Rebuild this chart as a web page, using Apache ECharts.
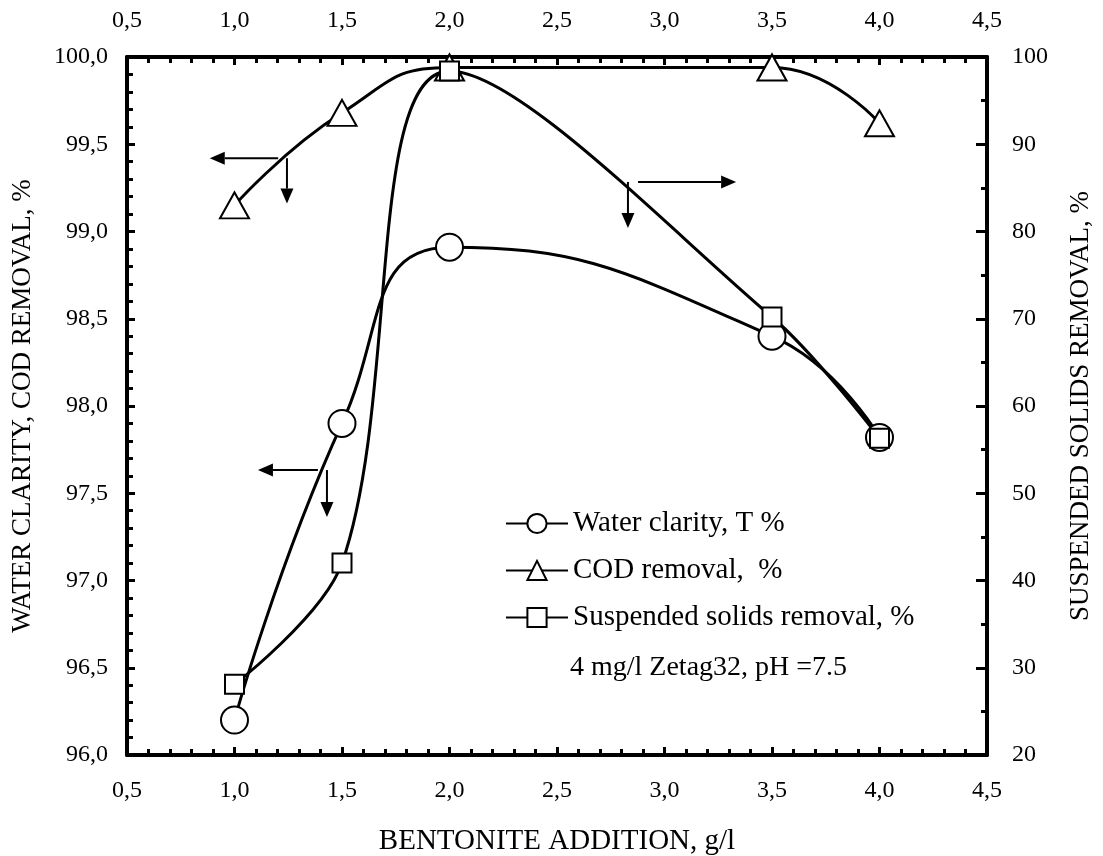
<!DOCTYPE html>
<html>
<head>
<meta charset="utf-8">
<script src="https://cdn.jsdelivr.net/npm/echarts@6/dist/echarts.min.js"></script>
<style>
  html, body { margin: 0; padding: 0; background: #fff; }
  #chart { width: 1103px; height: 856px; }
</style>
</head>
<body>
<div id="chart"></div>
<script>
// bentonite dose, g/l
var doses = [1.0, 1.5, 2.0, 3.5, 4.0];
// left axis series (%)
var waterClarity = [96.2, 97.9, 98.91, 98.4, 97.82];
var codRemoval = [99.15, 99.68, 99.94, 99.94, 99.62];
// right axis series (%)
var ssRemoval = [28.1, 42, 98.4, 70.2, 56.3];

var seriesNames = ['Water clarity, T %', 'COD removal,  %', 'Suspended solids removal, %'];
var noteText = '4 mg/l Zetag32, pH =7.5';

// annotation arrows, in (dose, left-axis %) units: [start, tip]
var arrows = [
  [[1.203, 99.42], [0.885, 99.42]],
  [[1.244, 99.42], [1.244, 99.16]],
  [[2.877, 99.284], [3.333, 99.284]],
  [[2.830, 99.284], [2.830, 99.02]],
  [[1.388, 97.633], [1.109, 97.633]],
  [[1.430, 97.633], [1.430, 97.364]]
];

var FONT = '"Liberation Serif", "Times New Roman", serif';

function pairs(ys) {
  return doses.map(function (x, i) { return [x, ys[i]]; });
}
function comma1(v) { return v.toFixed(1).replace('.', ','); }

var chart = echarts.init(document.getElementById('chart'));

var axisCommon = {
  axisLine: { onZero: false, lineStyle: { color: '#000', width: 4 } },
  axisTick: { inside: true, length: 8, lineStyle: { color: '#000', width: 3 } },
  minorTick: { show: true, length: 6, lineStyle: { color: '#000', width: 3 } },
  splitLine: { show: false },
  minorSplitLine: { show: false }
};

function xAx(pos, withName) {
  var a = Object.assign({}, axisCommon, {
    type: 'value', position: pos, min: 0.5, max: 4.5, interval: 0.5,
    minorTick: Object.assign({}, axisCommon.minorTick, { splitNumber: 5 }),
    axisLabel: { margin: 24, color: '#000', fontSize: 24, fontFamily: FONT, formatter: comma1 }
  });
  if (withName) {
    a.name = 'BENTONITE ADDITION, g/l';
    a.nameLocation = 'middle';
    a.nameGap = 72;
    a.nameTextStyle = { color: '#000', fontSize: 29, fontFamily: FONT };
  }
  return a;
}

function lineSeries(idx, yIdx, ys, symbol, size, smooth) {
  return {
    name: seriesNames[idx], type: 'line', yAxisIndex: yIdx,
    smooth: smooth,
    data: pairs(ys), symbol: symbol, symbolSize: size,
    lineStyle: { color: '#000', width: 3 },
    itemStyle: { color: '#fff', borderColor: '#000', borderWidth: 2 }
  };
}

var option = {
  backgroundColor: '#fff',
  animation: false,
  grid: { left: 127, right: 116, top: 57, bottom: 101, outerBoundsMode: 'none' },
  legend: {
    orient: 'vertical',
    left: 500,
    top: 504,
    itemWidth: 62,
    itemHeight: 24,
    itemGap: 18,
    data: seriesNames,
    textStyle: { color: '#000', fontSize: 29, fontFamily: FONT }
  },
  xAxis: [xAx('bottom', true), xAx('top', false)],
  yAxis: [
    Object.assign({}, axisCommon, {
      type: 'value', position: 'left', min: 96, max: 100, interval: 0.5,
      minorTick: Object.assign({}, axisCommon.minorTick, { splitNumber: 5 }),
      axisLabel: { margin: 19, color: '#000', fontSize: 24, fontFamily: FONT, formatter: comma1 },
      name: 'WATER CLARITY, COD REMOVAL, %',
      nameLocation: 'middle',
      nameRotate: 90,
      nameGap: 91,
      nameTextStyle: { color: '#000', fontSize: 27, fontFamily: FONT }
    }),
    Object.assign({}, axisCommon, {
      type: 'value', position: 'right', min: 20, max: 100, interval: 10,
      axisTick: { inside: true, length: 11, lineStyle: { color: '#000', width: 3 } },
      minorTick: Object.assign({}, axisCommon.minorTick, { splitNumber: 2 }),
      axisLabel: { margin: 25, color: '#000', fontSize: 24, fontFamily: FONT },
      name: 'SUSPENDED SOLIDS REMOVAL, %',
      nameLocation: 'middle',
      nameRotate: 90,
      nameGap: 80,
      nameTextStyle: { color: '#000', fontSize: 27, fontFamily: FONT }
    })
  ],
  series: [
    lineSeries(0, 0, waterClarity, 'circle', 27, 0.5),
    lineSeries(1, 0, codRemoval, 'triangle', [29, 26], 0.5),
    lineSeries(2, 1, ssRemoval, 'rect', 19, 0.35)
  ]
};

chart.setOption(option);

// arrows and the note, placed through the chart's own coordinate system
function arrowGraphics() {
  var els = [];
  arrows.forEach(function (a) {
    var p0 = chart.convertToPixel({ xAxisIndex: 0, yAxisIndex: 0 }, a[0]);
    var p1 = chart.convertToPixel({ xAxisIndex: 0, yAxisIndex: 0 }, a[1]);
    var dx = p1[0] - p0[0], dy = p1[1] - p0[1];
    var len = Math.sqrt(dx * dx + dy * dy);
    var ux = dx / len, uy = dy / len;
    var headL = 15, headW = 6.5;
    var bx = p1[0] - ux * headL, by = p1[1] - uy * headL;
    els.push({
      type: 'line', z: 10,
      shape: { x1: p0[0], y1: p0[1], x2: bx, y2: by },
      style: { stroke: '#000', lineWidth: 2 }
    });
    els.push({
      type: 'polygon', z: 10,
      shape: { points: [[p1[0], p1[1]], [bx - uy * headW, by + ux * headW], [bx + uy * headW, by - ux * headW]] },
      style: { fill: '#000' }
    });
  });
  els.push({
    type: 'text', left: 570, top: 654, z: 10,
    style: { text: noteText, fill: '#000', fontSize: 28, fontFamily: FONT }
  });
  return els;
}

chart.setOption({ graphic: arrowGraphics() });
</script>
</body>
</html>
